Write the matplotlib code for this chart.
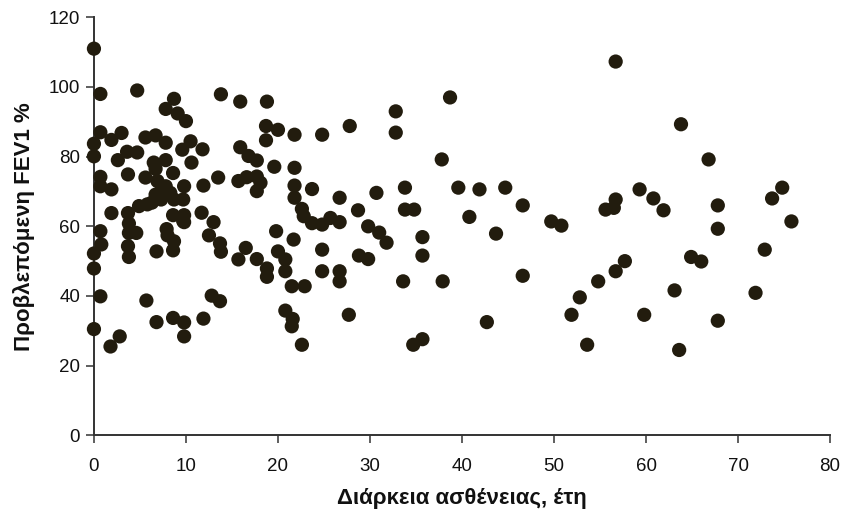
import matplotlib
matplotlib.use("Agg")
import matplotlib.pyplot as plt

# Disease duration (years) vs predicted FEV1 (%)
duration = [
    0, 0.7, 0.7, 1.9, 3.0, 0, 0, 0.7, 0.7, 1.9, 1.9, 0.7, 0.8, 0, 0, 0.7, 0, 1.8, 2.8,
    4.7, 2.6, 3.6, 4.7, 3.7, 3.7, 3.8, 3.8, 4.6, 3.7, 3.8, 4.9,
    5.6, 6.7, 5.6, 6.9, 6.5, 6.7, 5.8, 6.3, 6.7, 5.7, 6.8, 6.8,
    8.7, 7.8, 9.1, 10.0, 7.8, 9.6, 7.8, 8.6, 7.8, 7.3, 8.3, 7.3, 8.7, 9.8, 9.7,
    8.6, 9.8, 9.8, 7.9, 8.0, 8.7, 8.6, 9.7, 8.6, 9.8, 9.8,
    10.5, 11.8, 10.6, 11.9, 13.5, 11.7, 13.0, 12.5, 13.7, 13.8, 13.8, 12.8, 13.7, 11.9,
    15.9, 18.8, 18.7, 20.0, 18.7, 15.9, 16.8, 17.7, 19.6, 15.7, 16.6, 17.7, 18.1, 17.7,
    16.5, 15.7, 17.7, 18.8, 18.8, 19.8, 20.0, 20.8, 20.8, 20.8, 21.6, 21.5,
    21.8, 21.8, 21.8, 23.7, 21.8, 22.6, 22.8, 23.7, 21.7, 21.5, 22.9, 22.6,
    24.8, 27.8, 24.8, 25.7, 26.7, 26.7, 24.8, 24.8, 26.7, 26.7, 28.7, 29.8, 28.8, 29.8,
    27.7, 30.7,
    31.0, 31.8, 32.8, 32.8, 33.8, 33.8, 34.8, 35.7, 35.7, 33.6, 38.7, 37.8, 39.6, 37.9,
    34.7, 35.7,
    40.8, 41.9, 44.7, 43.7, 46.6, 46.6, 42.7, 49.7, 50.8, 51.9, 52.8, 53.6, 54.8,
    55.6, 56.5, 56.7, 56.7, 56.7, 57.7, 59.3, 59.8, 60.8, 61.9, 63.8, 63.1, 63.6,
    64.9, 66.0, 66.8, 67.8, 67.8, 67.8, 71.9, 72.9, 73.7, 74.8, 75.8,
]
fev1_pred = [
    111, 98, 87, 84.8, 86.8, 83.7, 80.1, 74.2, 71.5, 70.6, 63.8, 58.6, 54.8, 52.2, 47.9, 39.9, 30.5, 25.5, 28.4,
    99, 79, 81.4, 81.2, 74.9, 63.8, 60.8, 58.1, 58.1, 54.3, 51.2, 65.8,
    85.5, 86.1, 74.0, 73.0, 78.3, 76.5, 66.3, 66.8, 69.1, 38.7, 32.5, 52.8,
    96.6, 93.7, 92.4, 90.2, 84.0, 82.0, 79.0, 75.3, 71.5, 70.1, 69.6, 67.7, 67.7, 71.5, 67.7,
    63.2, 63.2, 61.2, 59.2, 57.4, 55.7, 53.1, 61.5, 33.7, 32.4, 28.4,
    84.4, 82.1, 78.3, 71.7, 74.0, 63.9, 61.2, 57.4, 55.1, 52.7, 97.9, 40.1, 38.5, 33.5,
    95.8, 95.8, 88.8, 87.7, 84.7, 82.7, 80.2, 78.9, 77.1, 73.0, 74.1, 74.3, 72.5, 70.1,
    53.8, 50.5, 50.6, 47.9, 45.5, 58.6, 52.8, 50.5, 47.1, 35.8, 33.4, 31.3,
    86.3, 76.8, 71.7, 70.7, 68.2, 65.0, 62.9, 60.9, 56.2, 42.8, 42.8, 26.0,
    86.3, 88.8, 60.5, 62.4, 61.2, 68.2, 53.3, 47.1, 47.1, 44.2, 64.6, 60.0, 51.6, 50.6,
    34.6, 69.6,
    58.2, 55.3, 93.0, 86.9, 71.1, 64.8, 64.8, 56.9, 51.6, 44.2, 97.0, 79.2, 71.1, 44.2,
    26.0, 27.6,
    62.7, 70.6, 71.1, 57.9, 66.0, 45.8, 32.5, 61.4, 60.2, 34.6, 39.6, 26.0, 44.2,
    64.8, 65.3, 67.7, 107.3, 47.1, 50.0, 70.6, 34.6, 68.0, 64.6, 89.3, 41.6, 24.5,
    51.2, 49.9, 79.2, 66.0, 59.3, 32.9, 40.9, 53.3, 68.0, 71.1, 61.4,
]

x_ticks = [0, 10, 20, 30, 40, 50, 60, 70, 80]
y_ticks = [0, 20, 40, 60, 80, 100, 120]
x_title = "Διάρκεια ασθένειας, έτη"
y_title = "Προβλεπόμενη FEV1 %"

plt.rcParams["font.family"] = ["Liberation Sans Narrow", "Liberation Sans", "DejaVu Sans"]

fig = plt.figure(figsize=(8.41, 5.17), dpi=100)
ax = fig.add_axes([0.1117, 0.158, 0.8753, 0.8085])

ax.scatter(duration, fev1_pred, s=105, color="#221c0e", edgecolors="none",
           zorder=3, clip_on=False)

ax.set_xlim(0, 80)
ax.set_ylim(0, 120)
ax.set_xticks(x_ticks)
ax.set_yticks(y_ticks)
ax.tick_params(axis="both", direction="out", length=6, width=1.1,
               color="#333333", labelsize=13.5, labelcolor="#111111", pad=4)
ax.tick_params(axis="x", pad=10)

for side in ("top", "right"):
    ax.spines[side].set_visible(False)
for side in ("left", "bottom"):
    ax.spines[side].set_color("#333333")
    ax.spines[side].set_linewidth(1.4)

ax.set_xlabel(x_title, fontsize=16, fontweight="bold", color="#111111", labelpad=10)
ax.set_ylabel(y_title, fontsize=16, fontweight="bold", color="#111111", labelpad=10)

fig.savefig("out.png", dpi=100)
